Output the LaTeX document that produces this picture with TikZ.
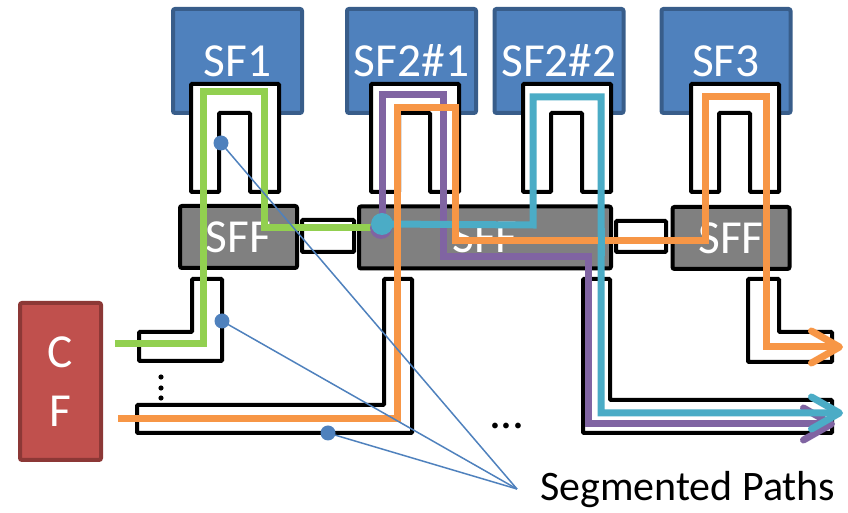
\documentclass[tikz,border=0pt]{standalone}
\usepackage{fontspec}
\setmainfont{Carlito}
\usetikzlibrary{arrows.meta}

\definecolor{sfblue}{HTML}{4F81BD}
\definecolor{sfedge}{HTML}{385D8A}
\definecolor{cfred}{HTML}{C0504D}
\definecolor{cfedge}{HTML}{8C3836}
\definecolor{pgreen}{HTML}{92D050}
\definecolor{porange}{HTML}{F79646}
\definecolor{pcyan}{HTML}{4BACC6}
\definecolor{ppurple}{HTML}{8064A2}

\begin{document}
\begin{tikzpicture}[x=0.5pt,y=-0.5pt]
\tikzstyle{sf} = [rectangle, draw=sfedge, line width=2pt, fill=sfblue, rounded corners=1pt,
minimum width=64.5pt, minimum height=52pt, text=white, font=\fontsize{23.7}{28}\selectfont]
\tikzstyle{sff} = [rectangle, draw=black, line width=2pt, fill=black!50, rounded corners=1pt,
minimum width=58.5pt, minimum height=31pt, text=white, font=\fontsize{23.7}{28}\selectfont]
\tikzstyle{cf} = [rectangle, draw=cfedge, line width=2pt, fill=cfred, rounded corners=1pt,
minimum width=40.5pt, minimum height=78.5pt, text=white, align=center,
font=\fontsize{23.7}{29.5}\selectfont]
\tikzstyle{pipe} = [draw=black, line width=2pt, fill=white, rounded corners=0.5pt]
\tikzstyle{route} = [line width=3.5pt]
\tikzstyle{outarrow} = [-{Straight Barb[length=14pt,width=16pt,round]}]
\tikzstyle{leader} = [draw=sfblue, line width=0.75pt]

\useasboundingbox (0,0) rectangle (848,513);

% functions, forwarders, classifier
\node[sf] (sf1) at (237.5,61) {SF1};
\node[sf] (sf21) at (411.5,61) {SF2\#1};
\node[sf] (sf22) at (559,61) {SF2\#2};
\node[sf] (sf3) at (726,61) {SF3};
\node[sff] (sff1) at (238.5,237) {SFF};
\node[sff, minimum width=126pt] (sff2) at (485,237.5) {SFF};
\node[sff] (sff3) at (731,238) {SFF};
\node[cf] (cf) at (60.5,381.5) {C\\F};

% ports of the functions
\foreach \x in {191,371,523,691}
  \draw[pipe] (\x,192) -- ++(0,-108) -- ++(88,0) -- ++(0,108) -- ++(-29,0)
    -- ++(0,-79) -- ++(-31,0) -- ++(0,79) -- cycle;

% links between forwarders
\draw[pipe] (302,220) rectangle (354,252);
\draw[pipe] (616,221) rectangle (666,252);

% channels below the forwarders
\draw[pipe] (192,279) -- (222,279) -- (222,361) -- (139,361) -- (139,332) -- (192,332) -- cycle;
\draw[pipe] (384,279) -- (412,279) -- (412,433) -- (137,433) -- (137,405) -- (384,405) -- cycle;
\draw[pipe] (583,279) -- (610,279) -- (610,400) -- (832,400) -- (832,433) -- (583,433) -- cycle;
\draw[pipe] (748,279) -- (779,279) -- (779,332) -- (832,332) -- (832,362) -- (748,362) -- cycle;

\foreach \y in {377,388,398}
  \fill (161,\y) circle (1.3pt);

% the paths
\coordinate (hub) at (382,224);
\draw[route, pgreen] (115,344) -- (203,344) -- (203,92) -- (264,92) -- (264,228) -- (375,228);
\draw[route, ppurple, outarrow] (382,226) -- (382,95) -- (443,95) -- (443,257)
  -- (588,257) -- (588,424) -- (835,424);
\fill[ppurple] ([shift={(-1,4)}]hub) circle (5.5pt);
\draw[route, pcyan, outarrow] (hub) -- (533,225) -- (533,97) -- (601,97) -- (601,413) -- (843,413);
\fill[pcyan] (hub) circle (5.5pt);
\draw[route, porange, outarrow] (118,419) -- (397,419) -- (397,108) -- (455,108) -- (455,241)
  -- (705,241) -- (705,97) -- (766,97) -- (766,347) -- (843,347);
\draw[route, pcyan] (601,228) -- (601,256);

% labels
\node[anchor=base, font=\fontsize{23.7}{28}\selectfont] (more) at (507,429) {...};
\node[anchor=base west, font=\fontsize{21}{24}\selectfont] (label) at (533,501) {Segmented Paths};

\coordinate (conv) at (517,489);
\coordinate (dA) at (221,143);
\coordinate (dB) at (222,321);
\coordinate (dC) at (328,433);
\foreach \d in {dA,dB,dC} {
  \draw[leader] (\d) -- (conv);
  \fill[sfblue] (\d) circle (3.75pt);
}
\end{tikzpicture}
\end{document}
